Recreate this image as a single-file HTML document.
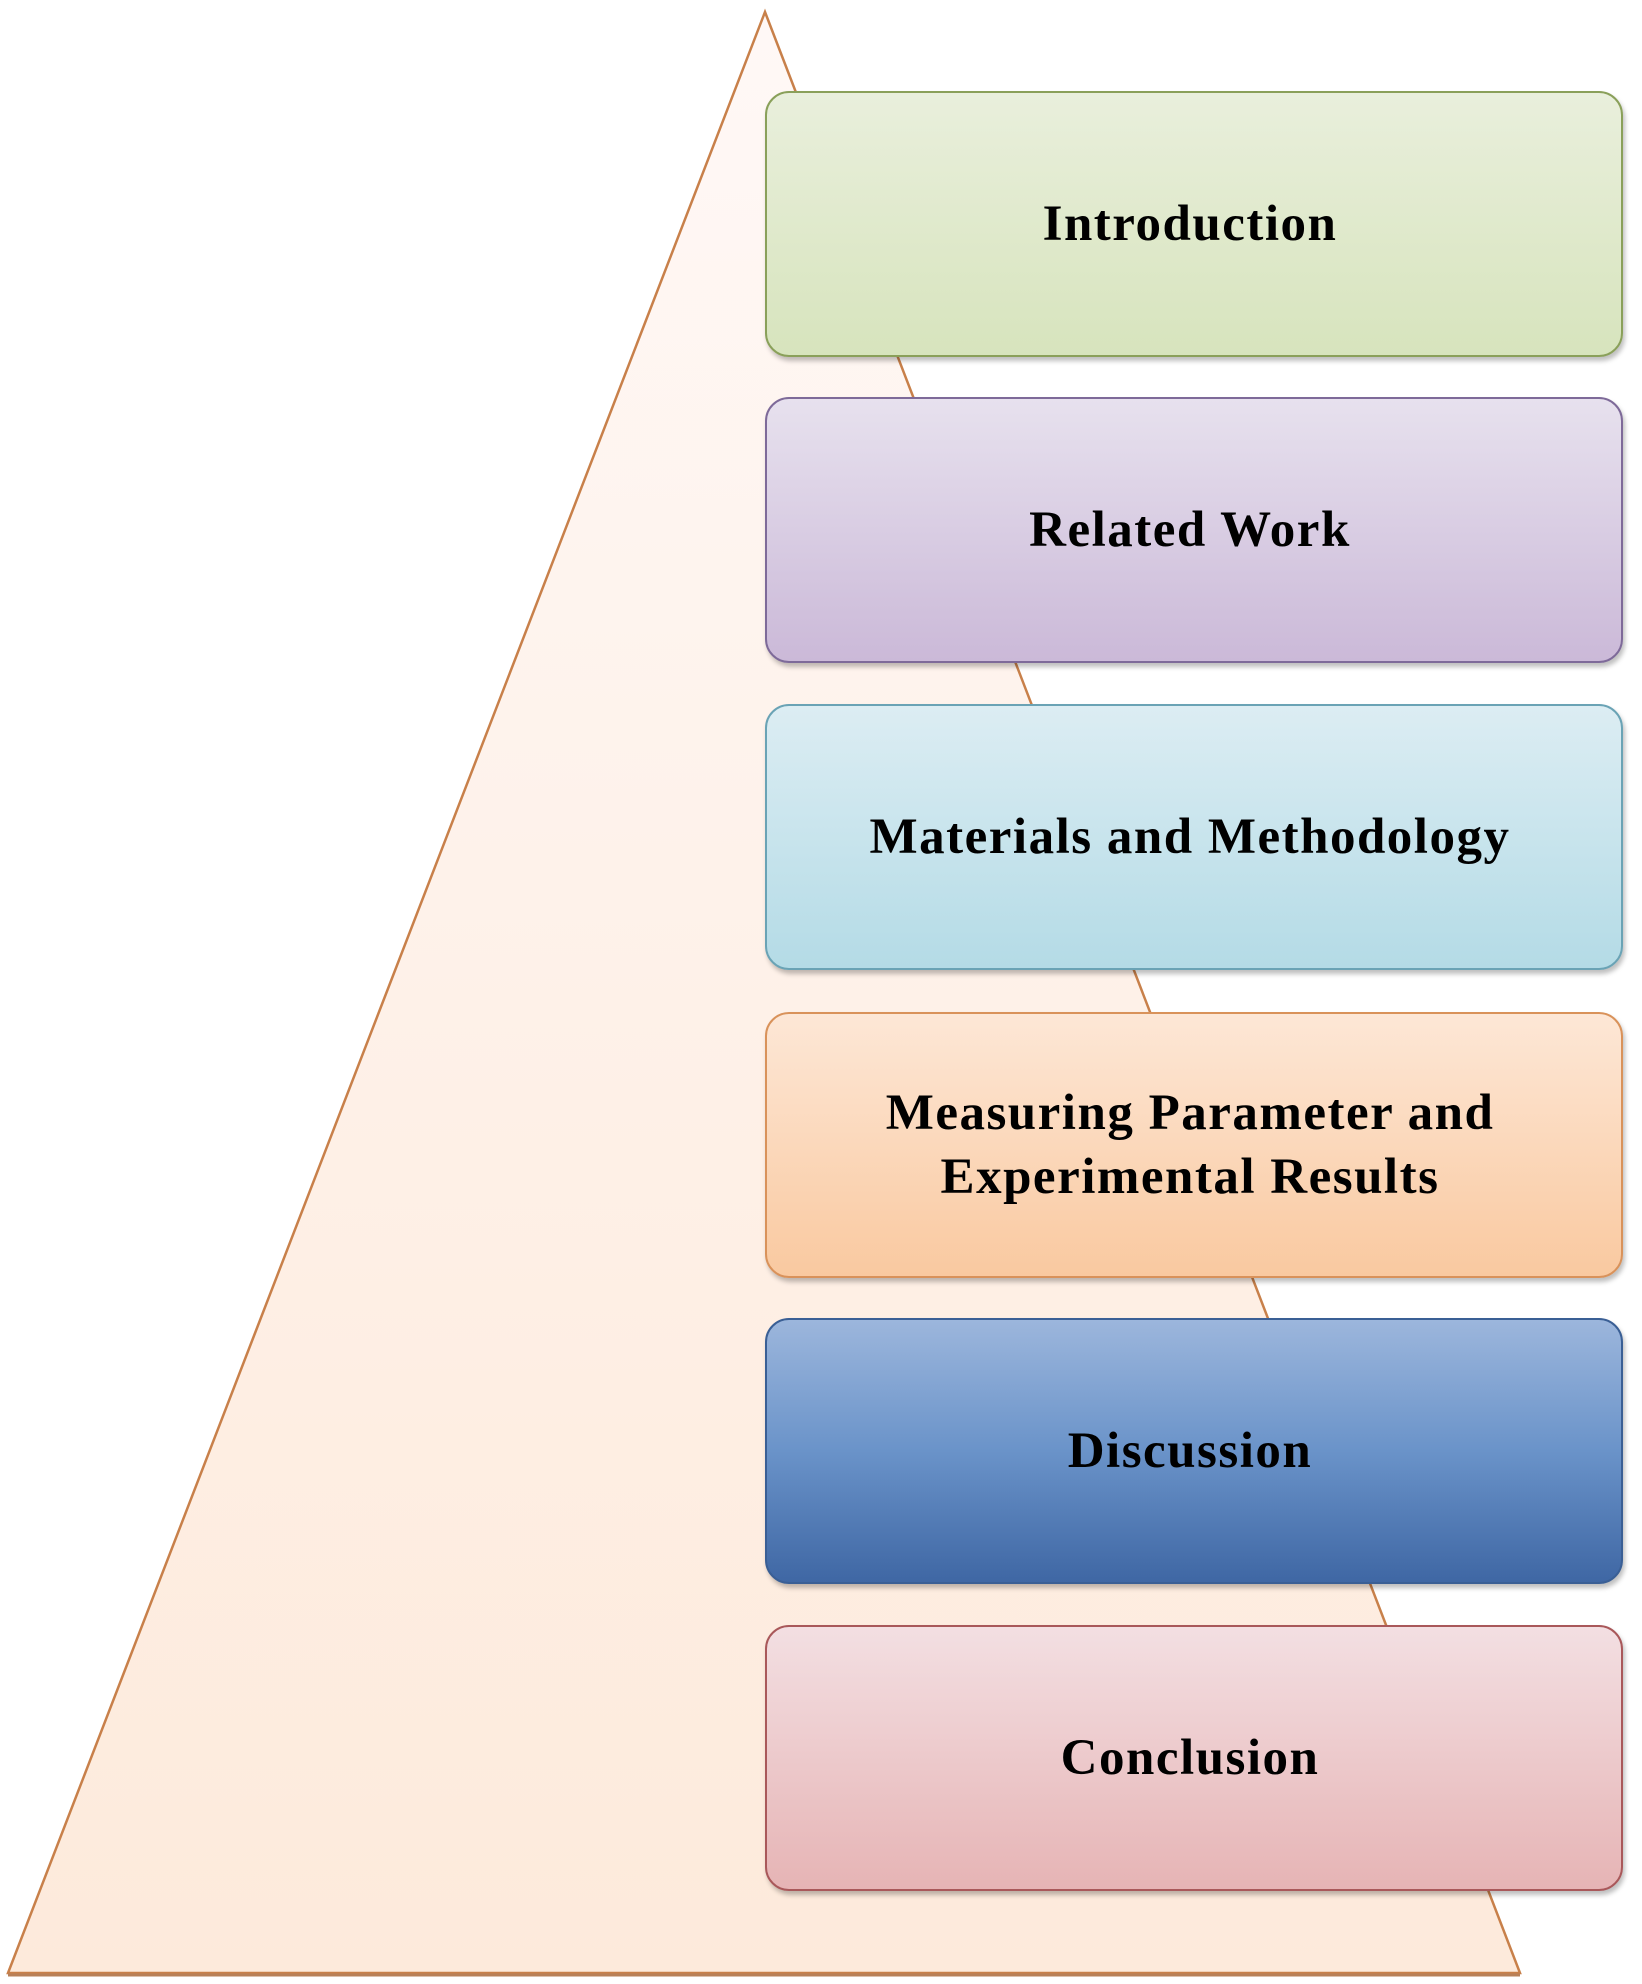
<!DOCTYPE html>
<html><head><style>
html,body{margin:0;padding:0;background:#fff;}
body{width:1642px;height:1984px;position:relative;overflow:hidden;}
svg{position:absolute;left:0;top:0;}
.b{position:absolute;left:765px;width:858px;height:266px;border-radius:24px;box-sizing:border-box;border:2px solid;display:flex;align-items:center;justify-content:center;text-align:center;font-family:"Liberation Serif",serif;font-weight:bold;font-size:51px;letter-spacing:1.5px;line-height:64px;color:#000;box-shadow:2px 4px 5px rgba(0,0,0,0.25);padding-right:8px;}
</style></head><body>
<svg width="1642" height="1984">
<defs><linearGradient id="t" x1="0" y1="0" x2="0" y2="1"><stop offset="0" stop-color="#fff8f6"/><stop offset="1" stop-color="#fdeadb"/></linearGradient></defs>
<polygon points="765,12 1520,1973 8,1973" fill="url(#t)" stroke="#c8804a" stroke-width="2.5"/>
<line x1="8" y1="1975" x2="1520" y2="1975" stroke="#b88058" stroke-width="3"/>
</svg>
<div class="b" style="top:91px;background:linear-gradient(#e9efdc,#d7e4bd);border-color:#8aa05a;">Introduction</div>
<div class="b" style="top:397px;background:linear-gradient(#e7e1ee,#cbb9d8);border-color:#7e6a99;">Related Work</div>
<div class="b" style="top:704px;background:linear-gradient(#dcedf3,#b4dbe6);border-color:#6aa3b5;">Materials and Methodology</div>
<div class="b" style="top:1012px;background:linear-gradient(#fde7d6,#f9c9a0);border-color:#d9925a;">Measuring Parameter and<br>Experimental Results</div>
<div class="b" style="top:1318px;background:linear-gradient(#9cb6dc,#6a93c9 50%,#3f67a4);border-color:#3a5f95;">Discussion</div>
<div class="b" style="top:1625px;background:linear-gradient(#f3dfe2,#e6b4b5);border-color:#a9585a;">Conclusion</div>
</body></html>
